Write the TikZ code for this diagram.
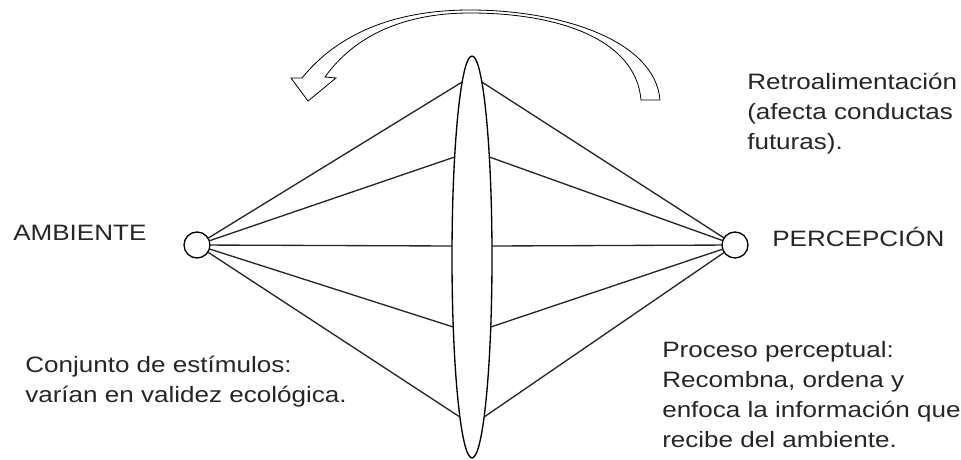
\documentclass[tikz,border=0pt]{standalone}
\usepackage{fontspec}
\setmainfont{Liberation Sans}[FakeStretch=1.17]
\usetikzlibrary{shapes.geometric}
\begin{document}
\begin{tikzpicture}[
    x=0.75pt, y=-0.75pt,
    dot/.style={draw, circle, line width=1pt, minimum size=19.5pt, inner sep=0pt, outer sep=0pt, fill=white},
    lens/.style={draw, ellipse, line width=1pt, minimum width=30pt, minimum height=301.5pt,
                 inner sep=0pt, outer sep=0pt},
    ray/.style={line width=1pt, black!85},
    lbl/.style={inner sep=0pt, align=left, font=\fontsize{16.7pt}{22.5pt}\selectfont, text=black!85},
    fb/.style={draw, fill=white, line width=0.6pt, line join=miter},
]
\useasboundingbox (0,0) rectangle (961,460);
\node[dot]  (amb) at (197,245) {};
\node[dot]  (per) at (735,245) {};
\node[lens] (len) at (472,257) {};
% points where the rays meet the lens
\foreach \yy/\nm in {82/a,157/b,246/c,327/d,417/e}{
    \coordinate (l\nm) at ({472-20*sqrt(1-((\yy-257)/201)^2)},\yy);
    \coordinate (r\nm) at ({472+20*sqrt(1-((\yy-257)/201)^2)},\yy);
    \draw[ray] (amb) -- (l\nm);
    \draw[ray] (r\nm) -- (per);
}
% feedback arrow
\draw[fb] (302,78) .. controls (345,25) and (410,10) .. (470,10)
    .. controls (560,10) and (655,40) .. (660,100) -- (641,100)
    .. controls (636,40) and (560,13) .. (470,13)
    .. controls (405,13) and (355,35) .. (325,77)
    -- (336,78) -- (308,101) -- (291,78) -- cycle;
% labels (base = last line)
\node[lbl, anchor=base west] (amb-t) at (13,240) {AMBIENTE};
\node[lbl, anchor=base west] (per-t) at (772,246) {PERCEPCIÓN};
\node[lbl, anchor=base west] (fb-t)  at (747,150)
    {Retroalimentación\\(afecta conductas\\futuras).};
\node[lbl, anchor=base west] (est-t) at (25,402)
    {Conjunto de estímulos:\\varían en validez ecológica.};
\node[lbl, anchor=base west] (pro-t) at (662,447)
    {Proceso perceptual:\\Recombna, ordena y\\enfoca la información que\\recibe del ambiente.};
\end{tikzpicture}
\end{document}
